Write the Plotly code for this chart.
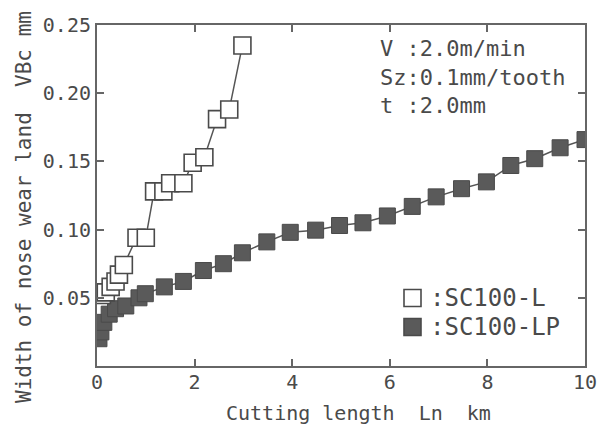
import plotly.graph_objects as go

# SC100-L (open squares)
l_x = [0.10, 0.18, 0.28, 0.38, 0.45, 0.55, 0.81, 1.00, 1.17, 1.36, 1.50, 1.77, 1.96, 2.20, 2.46, 2.71, 2.98]
l_y = [0.052, 0.054, 0.058, 0.062, 0.067, 0.074, 0.094, 0.094, 0.128, 0.128, 0.134, 0.134, 0.149, 0.153, 0.181, 0.188, 0.235]

# SC100-LP (filled squares)
lp_x = [0.04, 0.08, 0.14, 0.25, 0.38, 0.59, 0.86, 0.99, 1.38, 1.77, 2.18, 2.59, 2.98, 3.48, 3.96,
        4.48, 4.97, 5.45, 5.95, 6.46, 6.95, 7.47, 7.98, 8.48, 8.97, 9.49, 10.0]
lp_y = [0.020, 0.025, 0.032, 0.038, 0.042, 0.044, 0.050, 0.053, 0.058, 0.062, 0.070, 0.075, 0.083, 0.091, 0.098,
        0.0996, 0.103, 0.105, 0.110, 0.117, 0.124, 0.130, 0.135, 0.147, 0.152, 0.160, 0.166]

series_names = [":SC100-L", ":SC100-LP"]

x_ticks = [0, 2, 4, 6, 8, 10]
y_ticks = [0.05, 0.10, 0.15, 0.20, 0.25]
y_ticktext = ["0.05", "0.10", "0.15", "0.20", "0.25"]

FONT = "DejaVu Sans Mono"
INK = "#4a4a4a"

W, H = 602, 424
PL, PR, PT, PB = 97, 585, 25, 366          # plot box in screen pixels
ML, MT = PL, PT
MR, MB = W - PR, H - PB
PW, PH = W - ML - MR, H - MT - MB

def px_x(p):
    return (p - ML) / PW

def px_y(p):
    return (H - MB - p) / PH

fig = go.Figure()
fig.add_trace(go.Scatter(
    x=lp_x, y=lp_y, mode="lines+markers", name=series_names[1], showlegend=False,
    line=dict(color="#555555", width=1.5),
    marker=dict(symbol="square", size=16, color="#5a5a5a", line=dict(color="#4a4a4a", width=1)),
))
fig.add_trace(go.Scatter(
    x=l_x, y=l_y, mode="lines+markers", name=series_names[0], showlegend=False,
    line=dict(color="#555555", width=1.5),
    marker=dict(symbol="square", size=17, color="white", line=dict(color="#4a4a4a", width=1.6)),
))

# legend drawn as shapes + text
shapes = []
leg_rows = [298, 327]
leg_fill = ["white", "#5a5a5a"]
for yy, fc in zip(leg_rows, leg_fill):
    shapes.append(dict(type="rect", xref="paper", yref="paper",
                       x0=px_x(404), x1=px_x(421), y0=px_y(yy + 8.5), y1=px_y(yy - 8.5),
                       fillcolor=fc, line=dict(color="#4a4a4a", width=1.6)))

annotations = [
    dict(xref="paper", yref="paper", x=px_x(378), y=px_y(34), xanchor="left", yanchor="top",
         align="left", showarrow=False,
         text="V :2.0m/min<br>Sz:0.1mm/tooth<br>t :2.0mm",
         font=dict(family=FONT, size=22, color=INK)),
    dict(xref="paper", yref="paper", x=px_x(358), y=px_y(413), xanchor="center", yanchor="middle",
         showarrow=False, text="Cutting length  Ln  km",
         font=dict(family=FONT, size=20, color=INK)),
    dict(xref="paper", yref="paper", x=px_x(24), y=px_y(207), xanchor="center", yanchor="middle",
         showarrow=False, textangle=-90, text="Width of nose wear land  VBc mm",
         font=dict(family=FONT, size=21, color=INK)),
]
for yy, nm in zip(leg_rows, series_names):
    annotations.append(dict(xref="paper", yref="paper", x=px_x(428), y=px_y(yy), xanchor="left",
                            yanchor="middle", showarrow=False, text=nm,
                            font=dict(family=FONT, size=24, color=INK)))

fig.update_layout(
    width=W, height=H,
    margin=dict(l=ML, r=MR, t=MT, b=MB, autoexpand=False),
    paper_bgcolor="white", plot_bgcolor="white",
    font=dict(family=FONT, color=INK, size=20),
    showlegend=False,
    shapes=shapes,
    annotations=annotations,
)
fig.update_xaxes(
    range=[0, 10], tickvals=x_ticks, ticks="inside", ticklen=7, tickwidth=1.5, tickcolor="#666",
    showline=True, linecolor="#666", linewidth=2, mirror="ticks", showgrid=False, zeroline=False,
    tickfont=dict(size=20, color=INK), automargin=False, ticklabelstandoff=-3,
)
fig.update_yaxes(
    range=[0, 0.25], tickvals=y_ticks, ticktext=y_ticktext, ticks="inside", ticklen=7, tickwidth=1.5,
    tickcolor="#666",
    showline=True, linecolor="#666", linewidth=2, mirror="ticks", showgrid=False, zeroline=False,
    tickfont=dict(size=20, color=INK), automargin=False,
)

fig.write_html(
    "out.html",
    config={"displayModeBar": False},
    post_script="document.body.style.margin='0';document.body.style.overflow='hidden';",
)
